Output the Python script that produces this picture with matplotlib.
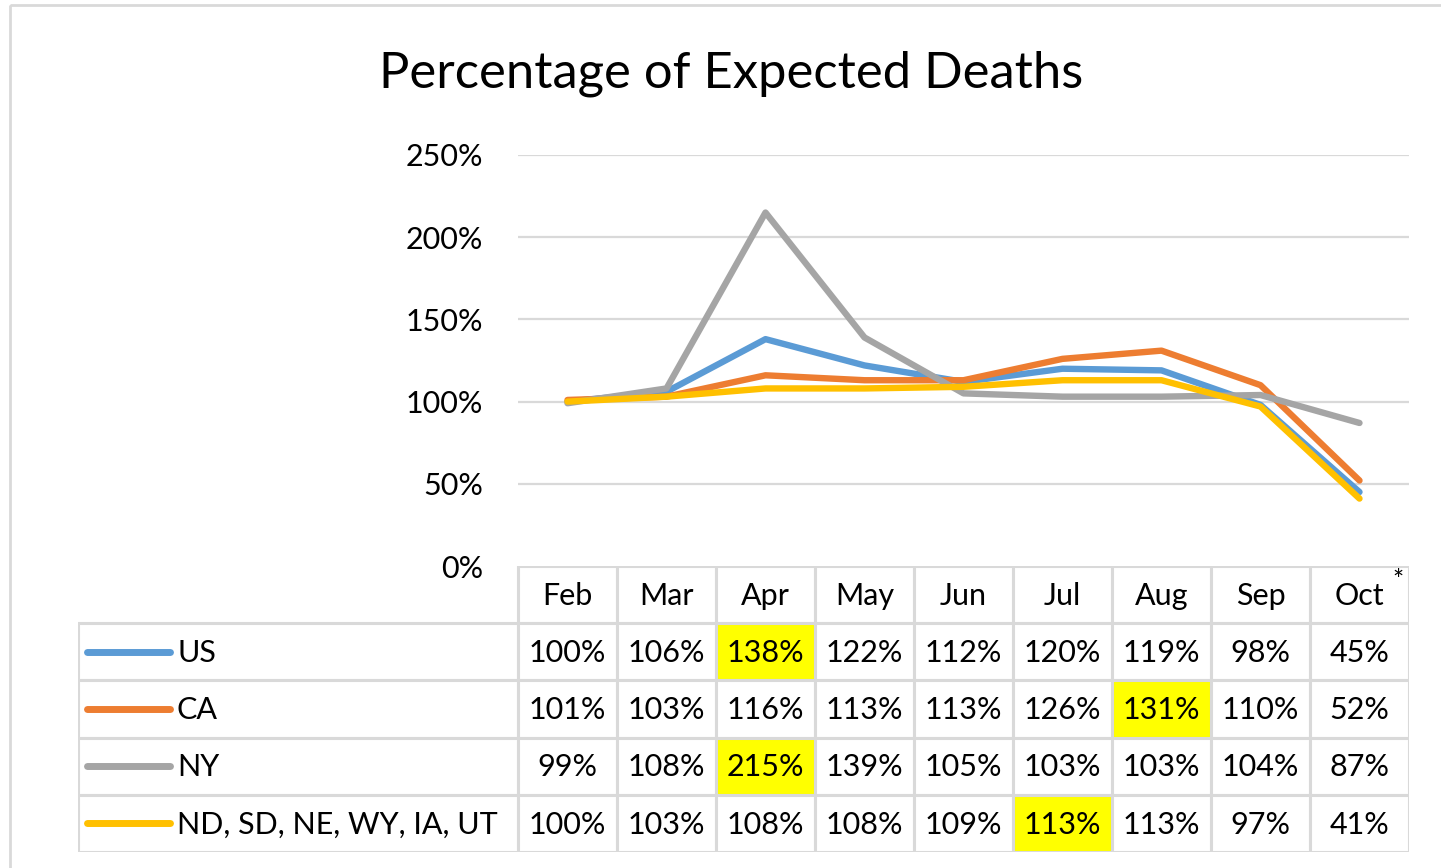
import matplotlib
matplotlib.use("Agg")
import matplotlib.pyplot as plt
from matplotlib.patches import Rectangle

# ---------------- data ----------------
months = ["Feb", "Mar", "Apr", "May", "Jun", "Jul", "Aug", "Sep", "Oct"]
series_names = ["US", "CA", "NY", "ND, SD, NE, WY, IA, UT"]
us = [100, 106, 138, 122, 112, 120, 119, 98, 45]
ca = [101, 103, 116, 113, 113, 126, 131, 110, 52]
ny = [99, 108, 215, 139, 105, 103, 103, 104, 87]
nd = [100, 103, 108, 108, 109, 113, 113, 97, 41]
series_values = [us, ca, ny, nd]
colors = ["#5B9BD5", "#ED7D31", "#A5A5A5", "#FFC000"]
highlight_month = ["Apr", "Aug", "Apr", "Jul"]
yticks = [0, 50, 100, 150, 200, 250]
title = "Percentage of Expected Deaths"
footnote_mark = "*"

# ---------------- layout ----------------
plt.rcParams['font.family'] = ['Lato', 'DejaVu Sans']
W, H = 1441, 868
fig = plt.figure(figsize=(W / 100, H / 100), dpi=100)
fig.patch.set_facecolor("white")

GRID = "#D9D9D9"
FS = 22

def fx(px):
    return px / W

def fy(py):
    return 1 - py / H

# chart-area border
bax = fig.add_axes([0, 0, 1, 1])
bax.set_xlim(0, W)
bax.set_ylim(H, 0)
bax.axis("off")
bax.add_patch(Rectangle((10, 5), W, H, fill=False, ec=GRID, lw=2))

# title
fig.text(fx(731), fy(74), title, ha="center", va="center", fontsize=36.5, color="black")

# plot area
pl, pr, pt, pb = 518, 1409, 155, 566
ax = fig.add_axes([fx(pl), fy(pb), (pr - pl) / W, (pb - pt) / H])
ax.set_xlim(-0.5, len(months) - 0.5)
ax.set_ylim(0, 250)
for s in ax.spines.values():
    s.set_visible(False)
ax.set_xticks([])
ax.set_yticks(yticks)
ax.set_yticklabels([f"{v}%" for v in yticks], fontsize=FS, color="black")
ax.tick_params(axis="y", length=0, pad=25)
for v in yticks[1:]:
    ax.axhline(v, color=GRID, lw=1.6, zorder=0)
xs = list(range(len(months)))
for vals, c in zip(series_values, colors):
    ax.plot(xs, vals, color=c, lw=4.6, solid_capstyle="round",
            solid_joinstyle="round", clip_on=False, zorder=3)

# data table
tl, tr, tt, tb = 78, 1409, 566, 852
col_px = (pr - pl) / len(months)
leg_w = (pl - tl) / col_px
tax = fig.add_axes([fx(tl), fy(tb), (tr - tl) / W, (tb - tt) / H])
tax.set_xlim(-0.5 - leg_w, len(months) - 0.5)
tax.set_ylim(len(series_names) + 1, 0)
tax.axis("off")

for j, m in enumerate(months):
    tax.add_patch(Rectangle((j - 0.5, 0), 1, 1, fc="white", ec=GRID, lw=2.2))
    tax.text(j, 0.52, m, ha="center", va="center", fontsize=FS, color="black")
tax.text(len(months) - 1 + 0.39, 0.27, footnote_mark, ha="center", va="center",
         fontsize=19, color="black")

x0 = -0.5 - leg_w
for i, (name, vals, c, hm) in enumerate(zip(series_names, series_values, colors, highlight_month)):
    r = i + 1
    tax.add_patch(Rectangle((x0, r), leg_w, 1, fc="white", ec=GRID, lw=2.2))
    tax.plot([x0 + 0.09, x0 + 0.93], [r + 0.5, r + 0.5], color=c, lw=5,
             solid_capstyle="round")
    tax.text(x0 + 1.0, r + 0.52, name, ha="left", va="center", fontsize=FS, color="black")
    for j, (m, v) in enumerate(zip(months, vals)):
        fc = "#FFFF00" if m == hm else "white"
        tax.add_patch(Rectangle((j - 0.5, r), 1, 1, fc=fc, ec=GRID, lw=2.2))
        tax.text(j, r + 0.52, f"{v}%", ha="center", va="center", fontsize=FS, color="black")

fig.savefig("out.png", dpi=100)
